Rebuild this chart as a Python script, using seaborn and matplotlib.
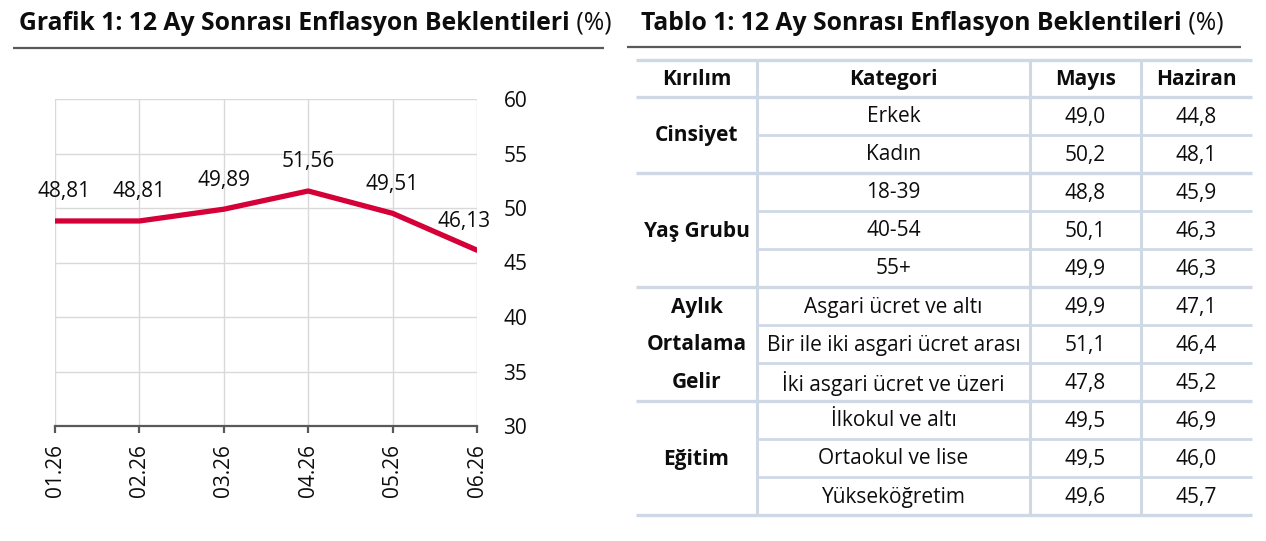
import matplotlib
matplotlib.use("Agg")
import matplotlib.pyplot as plt
import seaborn as sns
import pandas as pd

# ---- data ----
months = ["01.26", "02.26", "03.26", "04.26", "05.26", "06.26"]
expectation = [48.81, 48.81, 49.89, 51.56, 49.51, 46.13]

groups = ["Cinsiyet", "Yaş Grubu", "Aylık\nOrtalama\nGelir", "Eğitim"]
group_sizes = [2, 3, 3, 3]
categories = ["Erkek", "Kadın", "18-39", "40-54", "55+",
              "Asgari ücret ve altı", "Bir ile iki asgari ücret arası",
              "İki asgari ücret ve üzeri", "İlkokul ve altı",
              "Ortaokul ve lise", "Yükseköğretim"]
mayis = [49.0, 50.2, 48.8, 50.1, 49.9, 49.9, 51.1, 47.8, 49.5, 49.5, 49.6]
haziran = [44.8, 48.1, 45.9, 46.3, 46.3, 47.1, 46.4, 45.2, 46.9, 46.0, 45.7]
headers = ["Kırılım", "Kategori", "Mayıs", "Haziran"]

chart_title = "Grafik 1: 12 Ay Sonrası Enflasyon Beklentileri"
table_title = "Tablo 1: 12 Ay Sonrası Enflasyon Beklentileri"

sns.set_theme(style="white")
plt.rcParams["font.family"] = ["Open Sans", "DejaVu Sans"]

W, H = 1266, 541
fig = plt.figure(figsize=(W / 100, H / 100), dpi=100)
ink = "#0d0d0d"
red = "#d50037"
grid_c = "#d9d9d9"
axis_c = "#595959"
tbl_c = "#cfd8e5"


def fx(px):
    return px / W


# ---- line chart ----
ax = fig.add_axes([fx(55), 1 - 426 / H, fx(477 - 55), (426 - 99) / H])
df = pd.DataFrame({"pos": range(len(months)), "val": expectation})
sns.lineplot(data=df, x="pos", y="val", ax=ax, color=red, linewidth=3.8)
ax.set_xlim(0, len(months) - 1)
ax.set_ylim(30, 60)
ax.set_yticks(range(30, 61, 5))
ax.set_xticks(range(len(months)), labels=months, rotation=90)
ax.yaxis.tick_right()
ax.tick_params(axis="y", length=0, pad=19, labelsize=15, labelcolor=ink)
ax.tick_params(axis="x", bottom=True, direction="out", length=5, width=1.6,
               color=axis_c, pad=8, labelsize=15, labelcolor=ink)
ax.grid(True, color=grid_c, linewidth=1)
for s in ["top", "right", "left"]:
    ax.spines[s].set_visible(False)
ax.spines["bottom"].set_color(axis_c)
ax.spines["bottom"].set_linewidth(1.6)
ax.set_xlabel("")
ax.set_ylabel("")

n = len(months)
for i, v in enumerate(expectation):
    dx = 0
    if i == 0:
        dx = 6.5
    elif i == n - 1:
        dx = -9
    ax.annotate(f"{v:.2f}".replace(".", ","), (i, v), xytext=(dx, 21),
                textcoords="offset points", ha="center", va="center",
                fontsize=15, color=ink, annotation_clip=False)

# ---- overlay for titles and table ----
ov = fig.add_axes([0, 0, 1, 1], zorder=-1)
ov.set_xlim(0, W)
ov.set_ylim(H, 0)
ov.axis("off")


def title(x, y, txt):
    t = ov.text(x, y, txt, fontsize=17.8, fontweight="bold", color=ink,
                ha="left", va="center")
    ov.annotate(" (%)", xy=(1, 0), xycoords=t, va="bottom", ha="left",
                fontsize=17.8, color=ink)


title(19, 23, chart_title)
ov.plot([13, 604], [48, 48], color=axis_c, lw=1.6, solid_capstyle="butt")
title(641, 23, table_title)
ov.plot([627, 1241], [47, 47], color=axis_c, lw=1.6, solid_capstyle="butt")

# ---- table ----
x0, x1 = 636, 1252
col_edges = [757, 1030, 1141]
col_cent = [(x0 + col_edges[0]) / 2, (col_edges[0] + col_edges[1]) / 2,
            (col_edges[1] + col_edges[2]) / 2, (col_edges[2] + x1) / 2]
top, head_bot, row_h = 60, 97, 38
n_rows = len(categories)
bottom = head_bot + n_rows * row_h
fs = 15

for x in col_edges:
    ov.plot([x, x], [top, bottom], color=tbl_c, lw=2.2, solid_capstyle="butt")
for yy in [top, head_bot]:
    ov.plot([x0, x1], [yy, yy], color=tbl_c, lw=2.4, solid_capstyle="butt")

for j, h in enumerate(headers):
    ov.text(col_cent[j], (top + head_bot) / 2 + 1, h, fontsize=fs,
            fontweight="bold", ha="center", va="center", color=ink)

start = 0
for g, size in zip(groups, group_sizes):
    g_top = head_bot + start * row_h
    g_bot = g_top + size * row_h
    ov.plot([x0, x1], [g_bot, g_bot], color=tbl_c, lw=2.4, solid_capstyle="butt")
    for k in range(1, size):
        yy = g_top + k * row_h
        ov.plot([col_edges[0], x1], [yy, yy], color=tbl_c, lw=2.0,
                solid_capstyle="butt")
    lines = g.split("\n")
    mid = (g_top + g_bot) / 2
    for m, ln in enumerate(lines):
        yy = mid + (m - (len(lines) - 1) / 2) * row_h
        ov.text(col_cent[0], yy + 1, ln, fontsize=fs, fontweight="bold",
                ha="center", va="center", color=ink)
    start += size

for r in range(n_rows):
    yc = head_bot + (r + 0.5) * row_h + 1
    ov.text(col_cent[1], yc, categories[r], fontsize=fs, ha="center",
            va="center", color=ink)
    ov.text(col_cent[2], yc, f"{mayis[r]:.1f}".replace(".", ","),
            fontsize=fs, ha="center", va="center", color=ink)
    ov.text(col_cent[3], yc, f"{haziran[r]:.1f}".replace(".", ","),
            fontsize=fs, ha="center", va="center", color=ink)

fig.savefig("out.png", dpi=100, facecolor="white")
